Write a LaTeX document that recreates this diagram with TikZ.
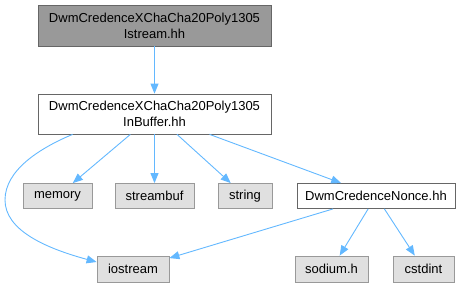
\documentclass[tikz,border=0pt]{standalone}
\usepackage{fontspec}
\setmainfont{Liberation Sans}
\usetikzlibrary{arrows.meta,calc}
\definecolor{edgeblue}{HTML}{63B8FF}
\definecolor{grayfill}{HTML}{E0E0E0}
\definecolor{grayline}{HTML}{999999}
\definecolor{topfill}{HTML}{999999}
\definecolor{darkline}{HTML}{666666}
\tikzset{
  base/.style={rectangle, inner sep=0pt, line width=0.8pt, align=center,
    font=\fontsize{13}{16}\selectfont},
  topbox/.style={base, draw=darkline, fill=topfill},
  whitebox/.style={base, draw=darkline, fill=white},
  sysbox/.style={base, draw=grayline, fill=grayfill},
  edge/.style={draw=edgeblue, line width=0.9pt,
    -{Triangle[length=10pt,width=8pt]}},
}
\begin{document}
\begin{tikzpicture}[x=1pt,y=-1pt]
\useasboundingbox (0,0) rectangle (466,287);
\node[topbox, minimum width=233, minimum height=41] (top) at (154.5,25.5)
  {DwmCredenceXChaCha20Poly1305\\Istream.hh};
\node[whitebox, minimum width=233, minimum height=40] (ib) at (154.5,114)
  {DwmCredenceXChaCha20Poly1305\\InBuffer.hh};
\node[sysbox, minimum width=69, minimum height=25] (mem) at (57.5,196) {memory};
\node[sysbox, minimum width=79, minimum height=25] (sb) at (154.5,196) {streambuf};
\node[sysbox, minimum width=54, minimum height=25] (str) at (245,196) {string};
\node[whitebox, minimum width=158, minimum height=25] (nonce) at (376,196) {DwmCredenceNonce.hh};
\node[sysbox, minimum width=72, minimum height=26] (ios) at (133,269) {iostream};
\node[sysbox, minimum width=73, minimum height=26] (sod) at (331.5,269) {sodium.h};
\node[sysbox, minimum width=61, minimum height=26] (cst) at (423.5,269) {cstdint};

\draw[edge] (top) -- (ib);
\draw[edge] (ib) -- (mem);
\draw[edge] (ib) -- (sb);
\draw[edge] (ib) -- (str);
\draw[edge] (ib) -- (nonce);
\draw[edge] ($(ib.south west)+(35,0)$) .. controls (40,148) and (5,170) .. (5,200)
  .. controls (5,230) and (45,248) .. ($(ios.west)+(0,-7)$);
\draw[edge] (nonce) -- (ios);
\draw[edge] (nonce) -- (sod);
\draw[edge] (nonce) -- (cst);
\end{tikzpicture}
\end{document}
